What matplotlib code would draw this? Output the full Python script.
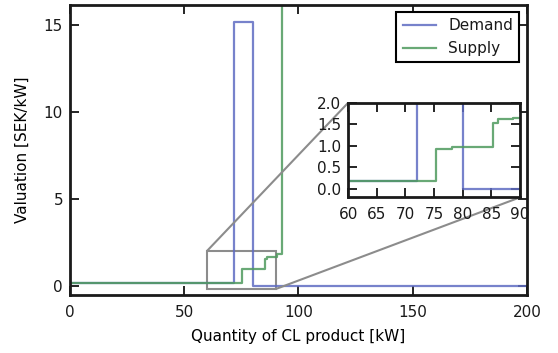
import numpy as np
import matplotlib
matplotlib.use('Agg')
import matplotlib.pyplot as plt
from mpl_toolkits.axes_grid1.inset_locator import mark_inset

# step curves (quantity kW, valuation SEK/kW)
demand_q = [0, 72, 80, 200]
demand_p = [0.17, 15.15, 0.0, 0.0]
supply_q = [0, 75.3, 78.1, 85.3, 86.2, 88.8, 90.5, 93.0]
supply_p = [0.17, 0.93, 0.98, 1.52, 1.62, 1.65, 1.8, 30.0]

c_dem = '#5f6cc2'
c_sup = '#4f9a5e'

plt.rcParams['xtick.direction'] = 'in'
plt.rcParams['ytick.direction'] = 'in'
plt.rcParams['xtick.top'] = True
plt.rcParams['ytick.right'] = True
plt.rcParams['xtick.major.size'] = 6.5
plt.rcParams['ytick.major.size'] = 6.5
plt.rcParams['xtick.major.width'] = 1.2
plt.rcParams['ytick.major.width'] = 1.2
plt.rcParams['xtick.major.pad'] = 7
plt.rcParams['ytick.major.pad'] = 5
plt.rcParams['axes.linewidth'] = 2
plt.rcParams['axes.edgecolor'] = '#1a1a1a'
plt.rcParams['text.color'] = '#1a1a1a'
plt.rcParams['xtick.labelcolor'] = '#1a1a1a'
plt.rcParams['ytick.labelcolor'] = '#1a1a1a'
plt.rcParams['font.size'] = 11

fig = plt.figure(figsize=(5.58, 3.53), dpi=100)
ax = fig.add_axes([0.1254, 0.1643, 0.819, 0.8224])

ax.step(demand_q, demand_p, where='post', color=c_dem, lw=1.6, alpha=0.85, label='Demand')
ax.step(supply_q, supply_p, where='post', color=c_sup, lw=1.6, alpha=0.85, label='Supply')
ax.set_xlim(0, 200)
ax.set_ylim(-0.54, 16.17)
ax.set_xticks([0, 50, 100, 150, 200])
ax.set_yticks([0, 5, 10, 15])
ax.set_xlabel('Quantity of CL product [kW]', labelpad=7)
ax.set_ylabel('Valuation [SEK/kW]', labelpad=10)
leg = ax.legend(loc='upper right', fancybox=False, framealpha=1, borderpad=0.4,
                handlelength=2.2)
leg.get_frame().set_edgecolor('black')
leg.get_frame().set_linewidth(1.5)

axins = fig.add_axes([0.624, 0.441, 0.308, 0.268])
axins.step(demand_q, demand_p, where='post', color=c_dem, lw=1.6, alpha=0.85)
axins.step(supply_q, supply_p, where='post', color=c_sup, lw=1.6, alpha=0.85)
axins.set_xlim(60, 90)
axins.set_ylim(-0.2, 2.0)
axins.set_xticks([60, 65, 70, 75, 80, 85, 90])
axins.set_yticks([0, 0.5, 1.0, 1.5, 2.0])

mark_inset(ax, axins, loc1=2, loc2=4, fc='none', ec='0.55', lw=1.5)

plt.savefig('out.png', dpi=100)
